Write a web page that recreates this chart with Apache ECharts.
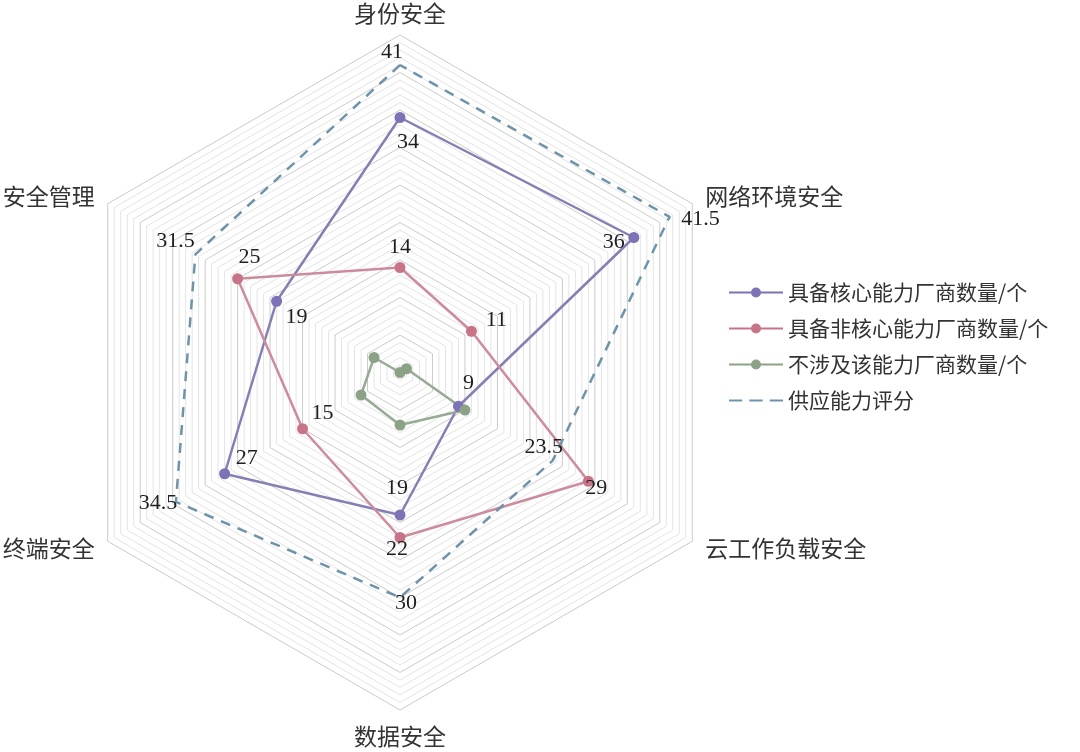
<!DOCTYPE html>
<html>
<head>
<meta charset="utf-8">
<title>供应能力雷达图</title>
<script src="https://cdn.jsdelivr.net/npm/echarts@6/dist/echarts.min.js"></script>
<style>
    html, body { margin: 0; padding: 0; background: #fff; }
    #chart { width: 1080px; height: 752px; }
</style>
</head>
<body>
<div id="chart"></div>
<script>
// echarts 的雷达图按逆时针排列指标，所以这里从顶部开始逆时针写
var INDICATORS = ['身份安全', '安全管理', '终端安全', '数据安全', '云工作负载安全', '网络环境安全'];
var AXIS_MAX = 45;

var SERIES_NAMES = ['具备核心能力厂商数量/个', '具备非核心能力厂商数量/个', '不涉及该能力厂商数量/个', '供应能力评分'];
var coreCount    = [34, 19, 27, 19, 9, 36];
var nonCoreCount = [14, 25, 15, 22, 29, 11];
var noneCount    = [0, 4, 6, 7, 10, 1];
var supplyScore  = [41, 31.5, 34.5, 30, 23.5, 41.5];

(function(win) {
    var CN_FONT = '"Noto Sans CJK SC", sans-serif';
    var NUM_FONT = '"Liberation Serif", "DejaVu Serif", serif';

    var COLOR_CORE = '#7b73b6';
    var COLOR_NONCORE = '#c77489';
    var COLOR_NONE = '#8ca287';
    var COLOR_SCORE = '#6f93a9';

    // 每个数值标签相对于点的偏移 [dx, dy]（顺序同 INDICATORS）
    var labelOffsets = {
        core:    [[8, 25], [20, 16], [22, -16], [-3, -27], [10, -23], [-20, 5]],
        nonCore: [[0, -20], [12, -22], [20, -16], [-3, 12], [8, 7], [25, -11]],
        score:   [[-8, -13], [-20, -13], [-18, 1], [6, 6], [-9, -13], [31, 2]]
    };

    var ICON_DOT_LINE = 'path://M0,9L23,9L23,11L0,11Z M31,9L54,9L54,11L31,11Z M22,10A5,5,0,1,1,32,10A5,5,0,1,1,22,10Z';
    var ICON_DASH = 'path://M0,9L13,9L13,11L0,11Z M20,9L33,9L33,11L20,11Z M40,9L53,9L53,11L40,11Z';

    function lineSeries(name, values, color, lineColor) {
        return {
            name: name,
            type: 'radar',
            symbol: 'circle',
            symbolSize: 11,
            itemStyle: { color: color },
            lineStyle: { color: lineColor, width: 2.5 },
            data: [{ name: name, value: values }]
        };
    }

    // 每个数值标签单独一条数据：只保留一个维度的值，其余为 0 不显示
    function labelItems(values, offsets) {
        var items = [];
        values.forEach(function(v, i) {
            var vals = values.map(function(x, j) { return j === i ? v : 0; });
            items.push({
                value: vals,
                label: { offset: offsets[i] }
            });
        });
        return items;
    }

    var labelData = []
        .concat(labelItems(coreCount, labelOffsets.core))
        .concat(labelItems(nonCoreCount, labelOffsets.nonCore))
        .concat(labelItems(supplyScore, labelOffsets.score));

    var gridColors = ['#cbcbcb', '#e4e4e4', '#e4e4e4', '#e4e4e4', '#e4e4e4'];

    var option = {
        animation: false,
        backgroundColor: '#fff',
        legend: {
            orient: 'vertical',
            left: 724,
            top: 277,
            itemWidth: 54,
            itemHeight: 10,
            itemGap: 15,
            itemStyle: { borderWidth: 0 },
            textStyle: { fontFamily: CN_FONT, fontSize: 21, color: '#333' },
            data: [
                { name: SERIES_NAMES[0], icon: ICON_DOT_LINE },
                { name: SERIES_NAMES[1], icon: ICON_DOT_LINE },
                { name: SERIES_NAMES[2], icon: ICON_DOT_LINE },
                { name: SERIES_NAMES[3], icon: ICON_DASH }
            ]
        },
        radar: {
            center: [400, 372.5],
            radius: 337.5,
            startAngle: 90,
            shape: 'polygon',
            splitNumber: AXIS_MAX,
            indicator: INDICATORS.map(function(n) { return { name: n, min: 0, max: AXIS_MAX }; }),
            nameGap: 15,
            axisName: {
                color: '#333',
                fontFamily: CN_FONT,
                fontSize: 23,
                // 顶部名称稍微往下压一点
                formatter: function(name) {
                    return name === INDICATORS[0] ? '{top|' + name + '}' : name;
                },
                rich: {
                    top: { color: '#333', fontFamily: CN_FONT, fontSize: 23, lineHeight: 14 }
                }
            },
            axisLine: { show: false },
            axisTick: { show: false },
            axisLabel: { show: false },
            splitArea: { show: false },
            splitLine: { lineStyle: { color: gridColors, width: 1 } }
        },
        series: [
            lineSeries(SERIES_NAMES[0], coreCount, COLOR_CORE, '#8480b4'),
            lineSeries(SERIES_NAMES[1], nonCoreCount, COLOR_NONCORE, '#cc8c9d'),
            lineSeries(SERIES_NAMES[2], noneCount, COLOR_NONE, '#98a996'),
            {
                name: SERIES_NAMES[3],
                type: 'radar',
                symbol: 'none',
                itemStyle: { color: COLOR_SCORE },
                lineStyle: { color: COLOR_SCORE, width: 2.5, type: [10, 8] },
                data: [{ name: SERIES_NAMES[3], value: supplyScore }]
            },
            {
                name: 'labels',
                type: 'radar',
                symbol: 'circle',
                symbolSize: 0,
                silent: true,
                itemStyle: { color: 'rgba(0,0,0,0)' },
                lineStyle: { width: 0, opacity: 0 },
                label: {
                    show: true,
                    position: 'inside',
                    color: '#1e1e1e',
                    fontFamily: NUM_FONT,
                    fontSize: 22,
                    formatter: function(p) {
                        return p.value === 0 ? '' : String(p.value);
                    }
                },
                data: labelData
            }
        ]
    };

    var chart = echarts.init(document.getElementById('chart'));
    chart.setOption(option);
}(window));
</script>
</body>
</html>
